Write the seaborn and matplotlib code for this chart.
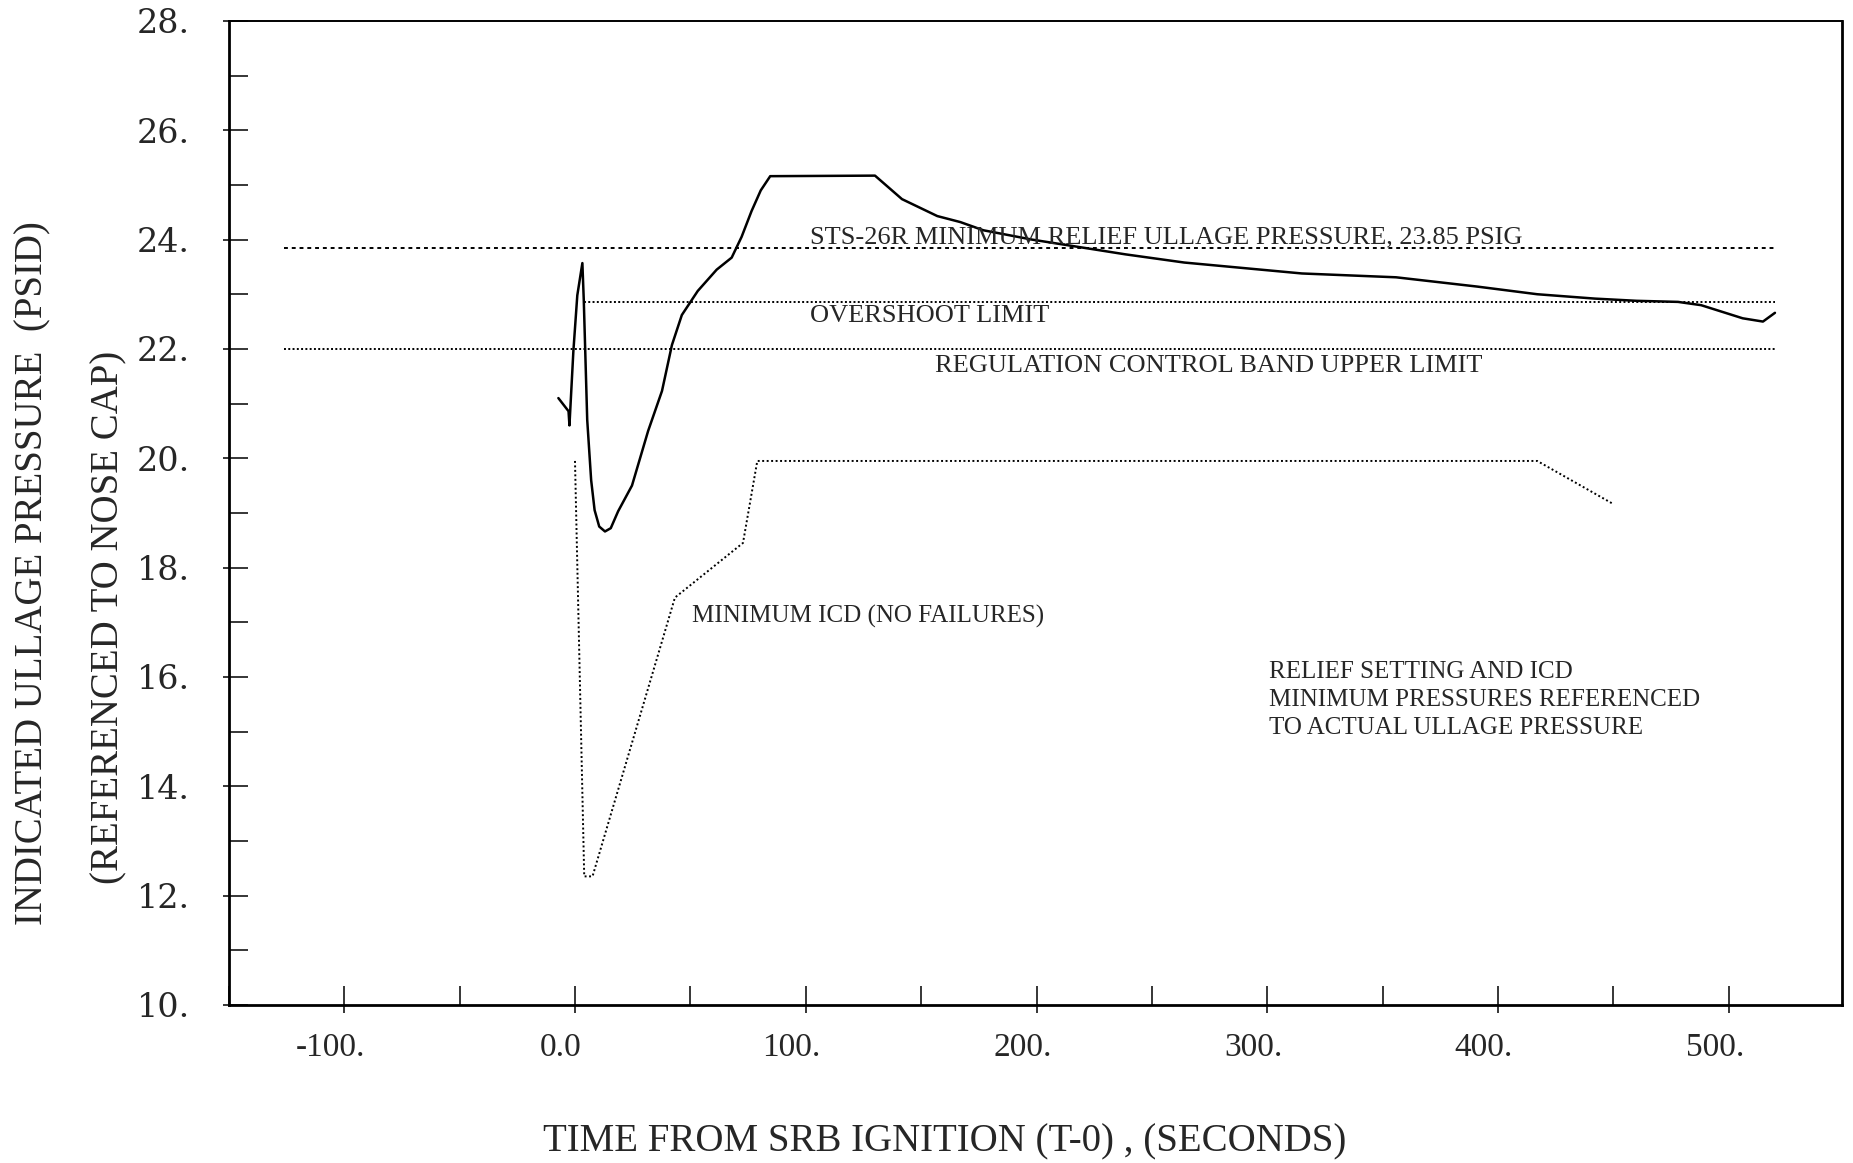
import matplotlib
matplotlib.use("Agg")
import matplotlib.pyplot as plt
import matplotlib.transforms as mtransforms
import seaborn as sns

# indicated ullage pressure (flight data)
t_ullage = [-7.2, -2.8, -2.4, -0.7, 1.0, 3.2, 3.8, 5.3, 7.0, 8.5, 10.5, 13.0, 15.5, 18.7,
            24.7, 31.7, 37.7, 42.0, 46.3, 53.2, 61.4, 67.9, 72.2, 76.5, 80.5, 84.6,
            130.0, 141.7, 157.0, 167.0, 177.0, 198.0, 238.5, 264.0, 289.5, 315.0, 355.8,
            391.0, 417.0, 442.0, 460.0, 478.0, 488.0, 506.0, 514.8, 520.0]
p_ullage = [21.10, 20.86, 20.60, 21.96, 22.98, 23.57, 22.90, 20.70, 19.60, 19.05, 18.75,
            18.66, 18.72, 19.03, 19.50, 20.50, 21.23, 22.07, 22.62, 23.06, 23.45, 23.67,
            24.05, 24.52, 24.90, 25.16, 25.17, 24.74, 24.43, 24.32, 24.17, 24.00, 23.73,
            23.58, 23.48, 23.38, 23.31, 23.14, 23.00, 22.92, 22.88, 22.86, 22.80, 22.56,
            22.50, 22.66]

# minimum ICD (no failures)
t_icd = [0.0, 4.0, 7.6, 43.3, 72.8, 79.0, 417.0, 449.6]
p_icd = [19.95, 12.35, 12.35, 17.45, 18.45, 19.95, 19.95, 19.17]

# horizontal limits
limit_values = [23.85, 22.85, 22.0]
limit_start = [-126.0, 4.0, -126.0]
limit_end = [520.0, 520.0, 520.0]
limit_styles = [(0, (2.0, 2.0)), (0, (1.0, 1.2)), (0, (1.0, 1.2))]

xticks = [-100, 0, 100, 200, 300, 400, 500]
xtick_labels = ["-100.", "0.0", "100.", "200.", "300.", "400.", "500."]
xminor = [-150, -50, 50, 150, 250, 350, 450]
yticks = [10, 12, 14, 16, 18, 20, 22, 24, 26, 28]
ytick_labels = ["10.", "12.", "14.", "16.", "18.", "20.", "22.", "24.", "26.", "28."]
yminor = [11, 13, 15, 17, 19, 21, 23, 25, 27]

sns.set_style("white")
plt.rcParams["font.family"] = ["Liberation Serif", "DejaVu Serif"]

fig = plt.figure(figsize=(18.53, 11.63), dpi=100)
ax = fig.add_axes([0.1235, 0.136, 0.8705, 0.846])

sns.lineplot(x=t_ullage, y=p_ullage, color="black", linewidth=1.8,
             sort=False, estimator=None, ax=ax)
sns.lineplot(x=t_icd, y=p_icd, color="black", linewidth=1.4, linestyle=(0, (1.0, 1.3)),
             sort=False, estimator=None, ax=ax)
for v, x0, x1, ls in zip(limit_values, limit_start, limit_end, limit_styles):
    sns.lineplot(x=[x0, x1], y=[v, v], color="black", linewidth=1.4, linestyle=ls,
                 sort=False, estimator=None, ax=ax)

ax.set_xlim(-148, 549)
ax.set_ylim(10, 28)

# inward ticks on the main axes, labels on secondary axes
ax.set_xticks(xticks)
ax.set_xticks(xminor, minor=True)
ax.set_yticks(yticks)
ax.set_yticks(yminor, minor=True)
ax.set_xticklabels([])
ax.set_yticklabels([])
ax.tick_params(which="both", direction="in", length=14, width=1.3,
               bottom=True, left=True, top=False, right=False)

secx = ax.secondary_xaxis("bottom")
secx.set_xticks(xticks, xtick_labels)
secx.tick_params(direction="out", length=6, width=1.3, pad=14, labelsize=24)
secx.spines["bottom"].set_visible(False)
shift = mtransforms.ScaledTranslation(-0.14, 0, fig.dpi_scale_trans)
for lab in secx.get_xticklabels():
    lab.set_transform(lab.get_transform() + shift)

secy = ax.secondary_yaxis("left")
secy.set_yticks(yticks, ytick_labels)
secy.tick_params(direction="out", length=4, width=1.3, pad=24, labelsize=24,
                 labelfontfamily="DejaVu Serif")
secy.spines["left"].set_visible(False)

for side in ["left", "bottom", "right", "top"]:
    ax.spines[side].set_visible(True)
    ax.spines[side].set_color("black")
    ax.spines[side].set_linewidth(2.0)
ax.spines["top"].set_linewidth(1.4)

# annotations
ax.text(102, 24.03, "STS-26R MINIMUM RELIEF ULLAGE PRESSURE, 23.85 PSIG",
        fontsize=19, va="center", ha="left")
ax.text(102, 22.61, "OVERSHOOT LIMIT", fontsize=19, va="center", ha="left")
ax.text(156, 21.69, "REGULATION CONTROL BAND UPPER LIMIT", fontsize=19, va="center", ha="left")
ax.text(50.5, 17.11, "MINIMUM ICD (NO FAILURES)", fontsize=18, va="center", ha="left")
note = ["RELIEF SETTING AND ICD", "MINIMUM PRESSURES REFERENCED", "TO ACTUAL ULLAGE PRESSURE"]
for i, line in enumerate(note):
    ax.text(300.7, 16.09 - i * 0.51, line, fontsize=18, va="center", ha="left")

# axis titles
fig.text(0.018, 0.507, "INDICATED ULLAGE PRESSURE  (PSID)", rotation=90,
         fontsize=28, va="center", ha="center")
fig.text(0.059, 0.469, "(REFERENCED TO NOSE CAP)", rotation=90,
         fontsize=28, va="center", ha="center")
fig.text(0.51, 0.018, "TIME FROM SRB IGNITION (T-0) , (SECONDS)",
         fontsize=28, va="center", ha="center")

fig.savefig("out.png", dpi=100)
plt.close(fig)
